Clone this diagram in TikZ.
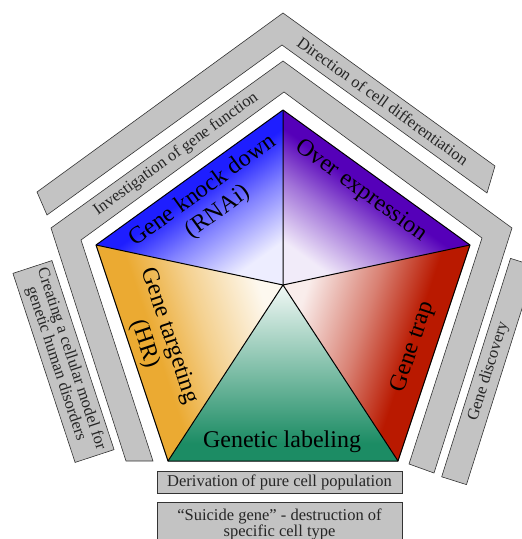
\documentclass[tikz,border=0pt]{standalone}
\usepackage{fontspec}
\setmainfont{Liberation Serif}
\definecolor{knockblue}{RGB}{30,30,255}
\definecolor{overpurple}{RGB}{85,0,185}
\definecolor{trapred}{RGB}{185,25,0}
\definecolor{labelgreen}{RGB}{28,140,100}
\definecolor{targetorange}{RGB}{235,170,50}
\definecolor{bandgray}{RGB}{195,195,195}

%% sector shadings (pale at the centre, full colour at the rim)
\pgfdeclareverticalshading{knockshade}{100bp}{color(0bp)=(knockblue!8!white);
  color(25bp)=(knockblue!8!white); color(39bp)=(knockblue!55!white);
  color(50.5bp)=(knockblue); color(100bp)=(knockblue)}
\pgfdeclareverticalshading{overshade}{100bp}{color(0bp)=(overpurple!8!white);
  color(25bp)=(overpurple!8!white); color(39bp)=(overpurple!55!white);
  color(50.5bp)=(overpurple); color(100bp)=(overpurple)}
\pgfdeclareverticalshading{trapshade}{100bp}{color(0bp)=(trapred!8!white);
  color(27.6bp)=(trapred!8!white); color(44.4bp)=(trapred!55!white);
  color(57.8bp)=(trapred); color(100bp)=(trapred)}
\pgfdeclareverticalshading{targetshade}{100bp}{color(0bp)=(targetorange!8!white);
  color(27.6bp)=(targetorange!8!white); color(44.4bp)=(targetorange!55!white);
  color(57.8bp)=(targetorange); color(100bp)=(targetorange)}
\pgfdeclareverticalshading{labelshade}{100bp}{color(0bp)=(labelgreen!6!white);
  color(25bp)=(labelgreen!6!white); color(50bp)=(labelgreen!58!white);
  color(70bp)=(labelgreen); color(100bp)=(labelgreen)}

\begin{document}
\begin{tikzpicture}[
  x=1pt, y=-1pt,
  band/.style={draw=black!80, fill=bandgray, line width=0.6pt},
  bar/.style={draw=black!80, fill=bandgray, line width=0.6pt,
              inner sep=0pt, align=center, text=black!85,
              font=\fontsize{16.5}{15}\selectfont},
  sector/.style={draw=black, line width=1pt, line join=round},
  bigtxt/.style={font=\fontsize{24}{26}\selectfont, align=center, inner sep=0pt},
  bandtxt/.style={font=\fontsize{16.5}{15}\selectfont, text=black!85, inner sep=0pt}
]
\clip (0,0) rectangle (522,539);

%% Pentagon corners
\coordinate (top) at (283,110);
\coordinate (rgt) at (470,245);
\coordinate (brt) at (398,461);
\coordinate (blt) at (168,461);
\coordinate (lft) at (96,245);
\coordinate (mid) at (283,285);

%% Gray bands round the pentagon
\draw[band] (37,192) -- (283,13) -- (495,166) -- (487,193) -- (282,45) -- (47,215) -- cycle;
\draw[band] (126,461) -- (51,228) -- (283,61) -- (512,228) -- (434,473)
  -- (409,464) -- (482,238) -- (284,92) -- (81,240) -- (153,461) -- cycle;
\node[bandtxt, rotate=-35.8] (direction) at (383,101) {Direction of cell differentiation};
\node[bandtxt, rotate=35.8] (investig) at (176,154) {Investigation of gene function};

%% Side bars
\node[bar, minimum width=199pt, minimum height=41pt, rotate=-71.8] (model) at (63.5,361.5)
  {Creating a cellular model for\\genetic human disorders};
\node[bar, minimum width=229pt, minimum height=26pt, rotate=72.5] (discovery) at (488.5,371.5)
  {Gene discovery};

%% Bottom boxes
\node[bar, minimum width=245pt, minimum height=22pt] (derivation) at (279.5,482)
  {Derivation of pure cell population};
\node[bar, minimum width=245pt, minimum height=44pt, anchor=north] (suicide) at (279.5,502)
  {``Suicide gene'' - destruction of\\specific cell type};

%% Sectors
\shade[shading=knockshade, shading angle=35.8] (top) -- (lft) -- (mid) -- cycle;
\shade[shading=overshade, shading angle=-35.8] (top) -- (rgt) -- (mid) -- cycle;
\shade[shading=trapshade, shading angle=-108.4] (rgt) -- (brt) -- (mid) -- cycle;
\shade[shading=labelshade, shading angle=180] (brt) -- (blt) -- (mid) -- cycle;
\shade[shading=targetshade, shading angle=108.4] (blt) -- (lft) -- (mid) -- cycle;
\draw[sector] (top) -- (rgt) -- (brt) -- (blt) -- (lft) -- cycle;
\draw[sector] (mid) -- (top) (mid) -- (rgt) (mid) -- (brt) (mid) -- (blt) (mid) -- (lft);

%% Sector labels
\node[bigtxt, rotate=35.8] (knock) at (210.5,201.5) {Gene knock down\\(RNAi)};
\node[bigtxt, rotate=-35.8] (over) at (361,191) {Over expression};
\node[bigtxt, rotate=71.6] (trap) at (413,347) {Gene trap};
\node[bigtxt, anchor=base] (labeling) at (282,447) {Genetic labeling};
\node[bigtxt, rotate=-71.6] (targeting) at (157,340) {Gene targeting\\(HR)};

\end{tikzpicture}
\end{document}
